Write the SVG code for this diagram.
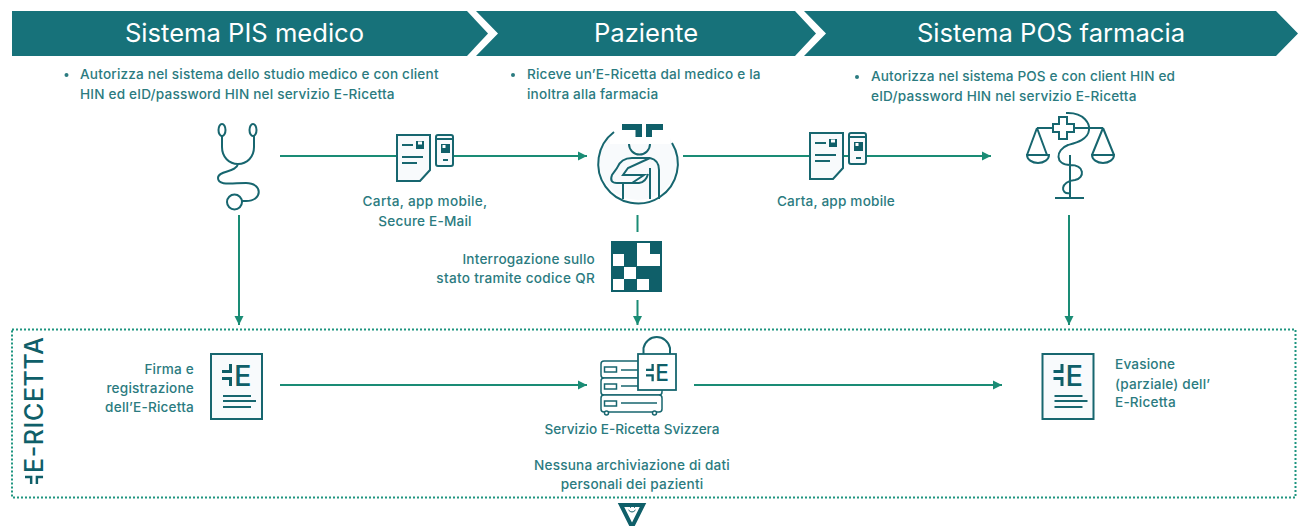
<svg xmlns="http://www.w3.org/2000/svg" xmlns:xlink="http://www.w3.org/1999/xlink" width="1301" height="526" viewBox="0 0 1301 526">
<style>
text{font-family:Inter,"Noto Sans","Liberation Sans",sans-serif;fill:#2b7b80;font-size:13.6px;letter-spacing:.19px;font-weight:450}
.h{fill:#fff;font-size:25.6px;text-anchor:middle;letter-spacing:0;font-weight:400}
.m{text-anchor:middle}.e{text-anchor:end}
.c{fill:none;stroke:#1a8c75;stroke-width:2}
.i{fill:none;stroke:#17666f;stroke-width:2}
.f{fill:#f8fafc;stroke:#17666f;stroke-width:2}
.d{fill:#0f5f69}
.l{fill:#0f5f69;font-size:29px;font-weight:500;letter-spacing:0}
</style>
<defs>
<marker id="a" markerUnits="userSpaceOnUse" markerWidth="10" markerHeight="10" refX="9" refY="5" orient="auto"><path d="M0,.5 9,5 0,9.500Z" fill="#1a8c75"/></marker>
<g id="doc"><path class="f" d="M1,1H34V36L24,47H1Z"/><path class="i" d="M6,11H17M6,23H27M6,29H21"/><rect x="20" y="7" width="8" height="8" class="d"/><rect x="22" y="7.500" width="4" height="3" fill="#fff"/><rect class="f" x="40" y="1" width="17" height="31" rx="2"/><path class="i" d="M40,5H57M47,26H52"/><rect x="45" y="10" width="9" height="9" class="d"/><rect x="46.500" y="11" width="3" height="3" fill="#fff"/></g>
<g id="logo"><path class="d" d="M7,0H10V9H0V6H7ZM0,13H10V22H7V16H0Z"/><text class="l" x="12" y="21.500">E</text></g>
<g id="edoc"><rect class="f" x="1" y="1" width="51" height="65"/><use xlink:href="#logo" x="12" y="11"/><path class="i" d="M13,43H41M13,48H46M13,54H41"/></g>
</defs>

<g id="header-pis"><path fill="#17727a" d="M12,11H467L488,33.500 467,56H12Z"/><text class="h" x="244.500" y="42">Sistema PIS medico</text></g>
<g id="header-paziente"><path fill="#17727a" d="M476,11H806L827,33.500 806,56H476L498,33.500Z" /><text class="h" x="646" y="42">Paziente</text></g>
<g id="header-pos"><path fill="#17727a" d="M805,11H1276L1298,33.500 1276,56H805L826,33.500Z"/><text class="h" x="1051" y="42">Sistema POS farmacia</text></g>
<path d="M795,11H804L826,33.500 804,56H795L816,33.500Z" fill="#fff"/>

<g id="bullets-pis"><circle cx="66.500" cy="75" r="2" fill="#2b7b80"/><text x="80" y="79">Autorizza nel sistema dello studio medico e con client</text><text x="80" y="99">HIN ed eID/password HIN nel servizio E-Ricetta</text></g>
<g id="bullets-paziente"><circle cx="513" cy="75" r="2" fill="#2b7b80"/><text x="527" y="79">Riceve un’E-Ricetta dal medico e la</text><text x="527" y="99">inoltra alla farmacia</text></g>
<g id="bullets-pos"><circle cx="857" cy="77" r="2" fill="#2b7b80"/><text x="871" y="81" style="letter-spacing:.15px">Autorizza nel sistema POS e con client HIN ed</text><text x="871" y="101">eID/password HIN nel servizio E-Ricetta</text></g>

<g id="connectors">
<path class="c" d="M280,156H397M454,156H587" marker-end="url(#a)"/>
<path class="c" d="M683,156H991" marker-end="url(#a)"/>
<path class="c" d="M239,215V325" marker-end="url(#a)"/>
<path class="c" d="M637.500,215V232"/>
<path class="c" d="M637.500,300V325" marker-end="url(#a)"/>
<path class="c" d="M1069,215V325" marker-end="url(#a)"/>
<path class="c" d="M280,385H587" marker-end="url(#a)"/>
<path class="c" d="M694,385H1002" marker-end="url(#a)"/>
</g>
<g id="ericetta-box"><rect x="12" y="329.500" width="1283.500" height="168" fill="none" stroke="#1f9580" stroke-width="2" stroke-dasharray="2 2"/>
<g transform="translate(25,484) rotate(-90)"><path class="d" transform="scale(.82)" d="M7,0H10V9H0V6H7ZM0,13H10V22H7V16H0Z"/><text x="11" y="18" style="font-size:25px;fill:#0f5f69;font-weight:500;letter-spacing:0" textLength="136" lengthAdjust="spacing">E-RICETTA</text></g></g>

<g id="node-medico"><ellipse class="i" cx="222" cy="130" rx="3.500" ry="6"/><ellipse class="i" cx="253" cy="130" rx="3.500" ry="6"/><path class="i" d="M222,136V147C222,157 229,164 238,164C247,164 254,157 254,147V136M238,164C236,173 218,170 218,178C218,186 232,183 246,183C263,183 263,201 246,201H242"/><circle class="i" cx="234.500" cy="202" r="7.500"/></g>
<g id="label-carta1"><use xlink:href="#doc" x="396" y="134"/><text class="m" x="425" y="206" style="letter-spacing:.33px">Carta, app mobile,</text><text class="m" x="425" y="226">Secure E-Mail</text></g>

<g id="node-paziente"><circle cx="638" cy="161" r="39" fill="#f8fafc"/><rect x="610" y="122" width="60" height="22" fill="#fff"/><path class="i" d="M614,132A39.800,39.800 0 1 0 672,143"/><path class="d" d="M622,124H642V137H635.500V130H622ZM646,124H663V130H652V137H646Z"/><path class="i" d="M629,144A10,10 0 0 0 650,144M623,199V184M650,158H632Q621,158 617,168L612,175Q609,183 617,183H639Q646,182 648,174M650,158L628,168 623,175H644L632,183M650,199V168M650,158Q659,160 659,170V199"/></g>
<g id="node-qr"><rect class="d" x="611" y="241" width="51" height="51"/><path fill="#fff" d="M613,254H624V266H613ZM637,243H650V254H660V266H637ZM624,267H636V279H624ZM613,279H624V290H613ZM637,279H649V290H637Z"/></g>
<text class="e" x="595" y="264">Interrogazione sullo</text><text class="e" x="595" y="283" style="letter-spacing:.3px">stato tramite codice QR</text>

<g id="label-carta2"><use xlink:href="#doc" x="809" y="132"/><text class="m" x="836" y="206">Carta, app mobile</text></g>
<g id="node-farmacia"><path class="i" d="M1037,128H1053M1074,128H1103M1037,128L1027,155M1037,128L1047,155M1103,128L1092,155M1103,128L1114,155M1027,155H1049A11,8 0 0 1 1027,155ZM1092,155H1114A11,8 0 0 1 1092,155Z"/><path class="i" d="M1059,117H1067V124H1074V132H1067V139H1059V132H1053V124H1059Z"/><path class="i" d="M1066,113C1085,112 1090,125 1089,130C1088,140 1075,143 1068,145C1055,150 1055,165 1070,165C1085,165 1085,178 1075,180C1060,181 1060,195 1070,193M1070,155V198M1055,198H1084"/></g>

<g id="node-firma"><use xlink:href="#edoc" x="210" y="353"/><text class="e" x="194" y="374">Firma e</text><text class="e" x="194" y="393">registrazione</text><text class="e" x="194" y="412">dell’E-Ricetta</text></g>
<g id="node-servizio"><g fill="#fff" stroke="#17666f" stroke-width="1.500"><rect x="601" y="361" width="61" height="17" rx="3"/><rect x="601" y="378" width="61" height="17" rx="3"/><rect x="601" y="395" width="61" height="17" rx="3"/><rect x="604.500" y="367" width="12" height="5"/><rect x="604.500" y="384" width="12" height="5"/><rect x="604.500" y="401" width="12" height="5"/><path d="M621,370H640M621,386H640M621,403H657"/><circle cx="606.500" cy="413" r="2"/><circle cx="654.500" cy="413" r="2"/></g><path class="i" d="M643.500,354V348A13.500,13.500 0 0 1 670,348V354"/><rect x="638" y="354" width="38" height="36" fill="#fff" stroke="#17666f" stroke-width="1.800"/><use xlink:href="#logo" transform="translate(646,364) scale(.78)"/><text class="m" x="632" y="434" style="letter-spacing:0">Servizio E-Ricetta Svizzera</text><text class="m" x="632" y="470">Nessuna archiviazione di dati</text><text class="m" x="632" y="489">personali dei pazienti</text></g>
<g id="node-evasione"><use xlink:href="#edoc" x="1041.500" y="353"/><text x="1115" y="369">Evasione</text><text x="1115" y="389">(parziale) dell’</text><text x="1115" y="407">E-Ricetta</text></g>
<g id="badge"><path fill="none" stroke="#0f5f69" stroke-width="4" stroke-linejoin="miter" d="M621,505H643L632,527Z"/><path fill="none" stroke="#0f5f69" stroke-width="1" d="M628.500,510Q632,514 635.500,510M630,507.500h.8M634,507.500h.8"/></g>
</svg>
